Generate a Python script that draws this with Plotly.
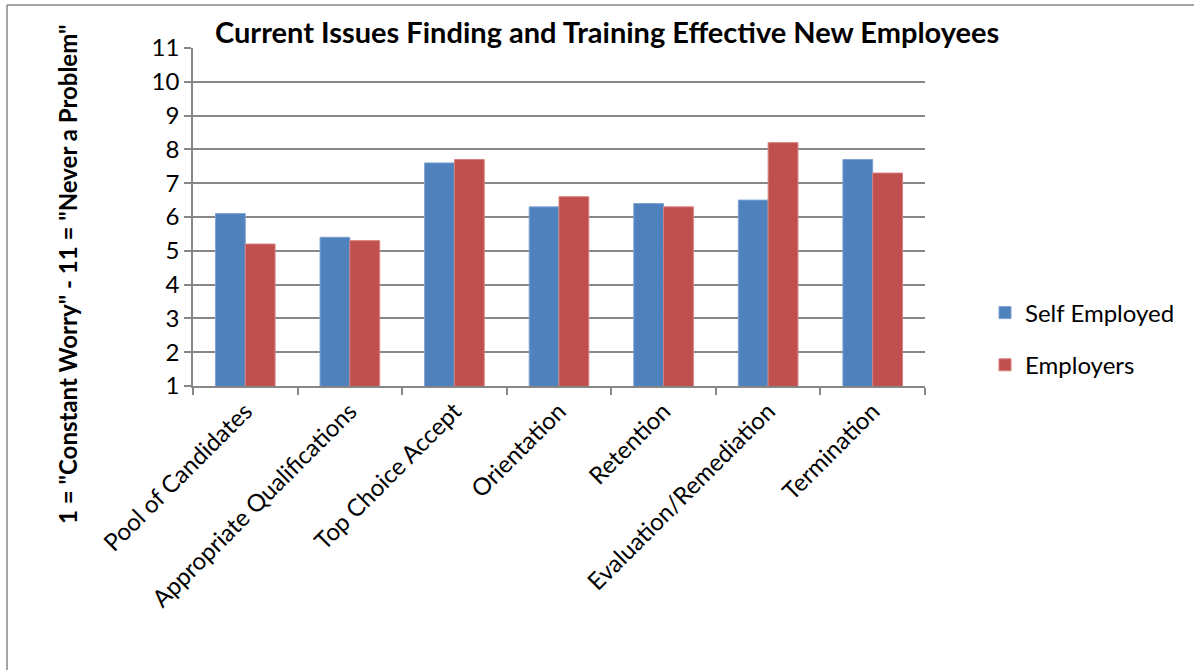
import plotly.graph_objects as go

categories = [
    "Pool of Candidates",
    "Appropriate Qualifications",
    "Top Choice Accept",
    "Orientation",
    "Retention",
    "Evaluation/Remediation",
    "Termination",
]
self_employed = [6.1, 5.4, 7.6, 6.3, 6.4, 6.5, 7.7]
employers = [5.2, 5.3, 7.7, 6.6, 6.3, 8.2, 7.3]
y_ticks = list(range(1, 12))

FONT = "Lato"
GRID = "#868686"

# figure size and plot area in pixels
W, H = 1194, 670
L, R, T, B = 193, 925, 48, 386


def px_x(px):
    return (px - L) / (R - L)


def px_y(py):
    return (B - py) / (B - T)


fig = go.Figure()
fig.add_trace(go.Bar(
    x=categories, y=self_employed, name="Self Employed",
    marker=dict(color="#4F81BD", line=dict(color="#7FA3D3", width=1)),
    legendgroup="a",
))
fig.add_trace(go.Bar(
    x=categories, y=employers, name="Employers",
    marker=dict(color="#C0504D", line=dict(color="#D6807E", width=1)),
    legendgroup="b",
))

fig.update_layout(
    width=W, height=H,
    margin=dict(l=L, r=W - R, t=T, b=H - B),
    paper_bgcolor="white", plot_bgcolor="white",
    font=dict(family=FONT, color="black"),
    barmode="group", bargap=0.43, bargroupgap=0,
    showlegend=True,
    legend=dict(
        x=px_x(985), y=px_y(339), xanchor="left", yanchor="middle",
        font=dict(family=FONT, size=24), tracegroupgap=18,
        itemwidth=30, bgcolor="rgba(0,0,0,0)",
    ),
    xaxis=dict(
        showline=True, linecolor=GRID, linewidth=1.5,
        ticks="outside", tickson="boundaries", ticklen=7,
        tickcolor=GRID, tickwidth=1.5,
        tickangle=-45, tickfont=dict(family=FONT, size=24),
        showgrid=False,
    ),
    yaxis=dict(
        range=[1, 11], tickvals=y_ticks,
        showline=True, linecolor=GRID, linewidth=1.5,
        ticks="outside", ticklen=7, tickcolor=GRID, tickwidth=1.5,
        showgrid=True, gridcolor=GRID, gridwidth=1.5,
        tickfont=dict(family=FONT, size=24), zeroline=False,
    ),
    annotations=[
        dict(
            text="<b>Current Issues Finding and Training Effective New Employees</b>",
            x=px_x(607), y=px_y(32), xref="paper", yref="paper",
            xanchor="center", yanchor="middle", showarrow=False,
            font=dict(family=FONT, size=29),
        ),
        dict(
            text='<b>1 = "Constant Worry" - 11 = "Never a Problem"</b>',
            x=px_x(67), y=px_y(275), xref="paper", yref="paper",
            xanchor="center", yanchor="middle", showarrow=False,
            textangle=-90, font=dict(family=FONT, size=24),
        ),
    ],
    shapes=[
        # chart-area frame: left and top edges
        dict(type="line", xref="paper", yref="paper",
             x0=px_x(7), x1=px_x(7), y0=px_y(H), y1=px_y(5),
             line=dict(color=GRID, width=1.5), layer="below"),
        dict(type="line", xref="paper", yref="paper",
             x0=px_x(7), x1=px_x(W), y0=px_y(5), y1=px_y(5),
             line=dict(color=GRID, width=1.5), layer="below"),
    ],
)

fig.write_html("out.html")
